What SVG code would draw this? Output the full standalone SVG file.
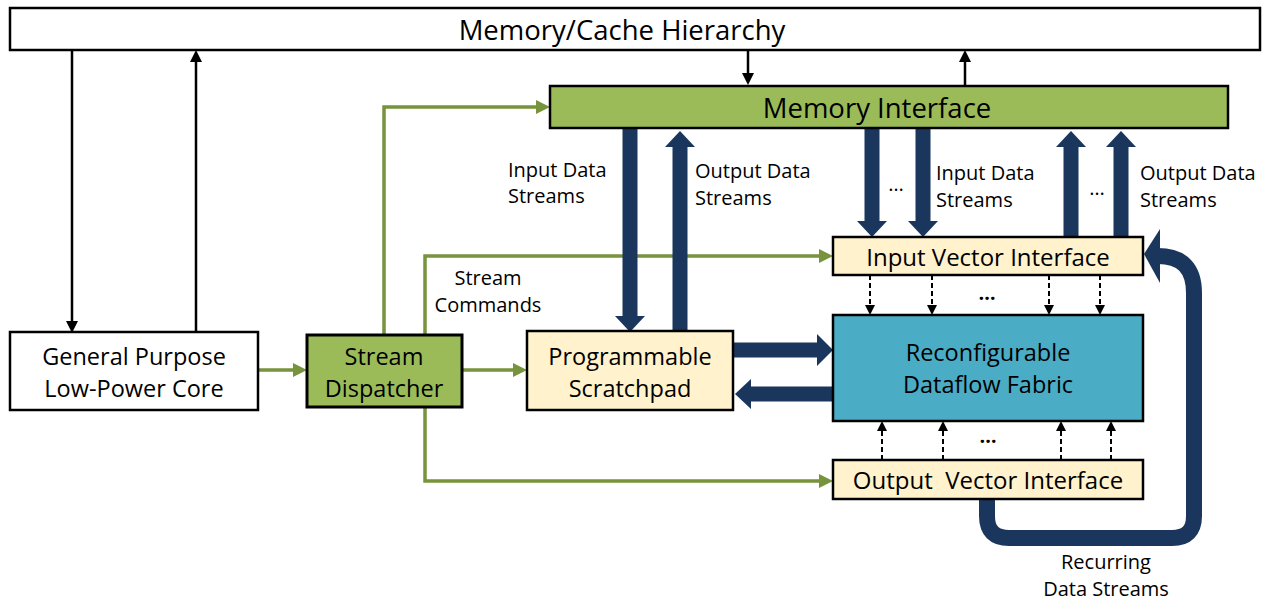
<svg xmlns="http://www.w3.org/2000/svg" width="1268" height="601" viewBox="0 0 1268 601">
<style>
text{font-family:"Open Sans","Liberation Sans",sans-serif;fill:#000}
.big{font-size:27.5px;text-anchor:middle}
.node{font-size:23.5px;text-anchor:middle}
.vi{font-size:24px;text-anchor:middle}
.lbl{font-size:20px}
.box{stroke:#000;stroke-width:2.5}
.g{fill:none;stroke:#77933C;stroke-width:3.5}
.k{fill:none;stroke:#000;stroke-width:2.5}
.d{fill:none;stroke:#000;stroke-width:2;stroke-dasharray:5 3}
.navy{fill:#1B365D}
</style>
<defs>
<marker id="ga" markerUnits="userSpaceOnUse" markerWidth="14" markerHeight="14" viewBox="0 0 10 10" refX="5" refY="5" orient="auto"><path d="M0,0 L10,5 L0,10 z" fill="#77933C"/></marker>
<marker id="ka" markerUnits="userSpaceOnUse" markerWidth="12" markerHeight="12" viewBox="0 0 10 10" refX="5" refY="5" orient="auto"><path d="M0,0 L10,5 L0,10 z" fill="#000"/></marker>
<marker id="da" markerUnits="userSpaceOnUse" markerWidth="10" markerHeight="10" viewBox="0 0 10 10" refX="5" refY="5" orient="auto"><path d="M0,0 L10,5 L0,10 z" fill="#000"/></marker>
</defs>
<rect width="1268" height="601" fill="#fff"/>

<g id="connectors">
<path class="g" d="M258 370 H300" marker-end="url(#ga)"/>
<path class="g" d="M462 370 H520" marker-end="url(#ga)"/>
<path class="g" d="M384 335 V107 H543" marker-end="url(#ga)"/>
<path class="g" d="M425 335 V256 H826" marker-end="url(#ga)"/>
<path class="g" d="M425 407 V481 H826" marker-end="url(#ga)"/>
<path class="k" d="M72 50 V327" marker-end="url(#ka)"/>
<path class="k" d="M196 332 V56" marker-end="url(#ka)"/>
<path class="k" d="M748 50 V79" marker-end="url(#ka)"/>
<path class="k" d="M965 85 V56" marker-end="url(#ka)"/>
<path class="d" d="M870 275 V310" marker-end="url(#da)"/>
<path class="d" d="M932 275 V310" marker-end="url(#da)"/>
<path class="d" d="M1049 275 V310" marker-end="url(#da)"/>
<path class="d" d="M1100 275 V310" marker-end="url(#da)"/>
<path class="d" d="M882 460 V426" marker-end="url(#da)"/>
<path class="d" d="M943 460 V426" marker-end="url(#da)"/>
<path class="d" d="M1061 460 V426" marker-end="url(#da)"/>
<path class="d" d="M1111 460 V426" marker-end="url(#da)"/>
<polygon class="navy" points="622.5,128 637.5,128 637.5,316 645,316 630,332 615,316 622.5,316"/>
<polygon class="navy" points="672.5,331 687.5,331 687.5,147 695,147 680,131 665,147 672.5,147"/>
<polygon class="navy" points="864.5,128 879.5,128 879.5,221 887,221 872,237 857,221 864.5,221"/>
<polygon class="navy" points="915.5,128 930.5,128 930.5,221 938,221 923,237 908,221 915.5,221"/>
<polygon class="navy" points="1063.5,237 1078.5,237 1078.5,147 1086,147 1071,131 1056,147 1063.5,147"/>
<polygon class="navy" points="1113.5,237 1128.5,237 1128.5,147 1136,147 1121,131 1106,147 1113.5,147"/>
<polygon class="navy" points="733,342.5 817,342.5 817,334 833,350 817,366 817,357.5 733,357.5"/>
<polygon class="navy" points="833,386.5 751,386.5 751,379 735,394 751,409 751,401.5 833,401.5"/>
<path d="M987 499 V516 Q987 538 1009 538 H1172 Q1194 538 1194 516 V293 Q1194 256 1158 256" fill="none" stroke="#1B365D" stroke-width="16"/>
<polygon class="navy" points="1144,254 1160,229 1160,283"/>
<text class="lbl" x="896" y="191" style="text-anchor:middle">…</text>
<text class="lbl" x="1097" y="195" style="text-anchor:middle">…</text>
<text x="987" y="300" style="font-size:20px;font-weight:bold;text-anchor:middle">…</text>
<text x="988" y="443" style="font-size:20px;font-weight:bold;text-anchor:middle">…</text>
<text class="lbl" x="508" y="177">Input Data</text>
<text class="lbl" x="508" y="203">Streams</text>
<text class="lbl" x="695" y="178">Output Data</text>
<text class="lbl" x="695" y="205">Streams</text>
<text class="lbl" x="936" y="180">Input Data</text>
<text class="lbl" x="936" y="207">Streams</text>
<text class="lbl" x="1140" y="180">Output Data</text>
<text class="lbl" x="1140" y="207">Streams</text>
<text class="lbl" x="488" y="285" style="text-anchor:middle">Stream</text>
<text class="lbl" x="488" y="312" style="text-anchor:middle">Commands</text>
<text class="lbl" x="1106" y="569" style="text-anchor:middle">Recurring</text>
<text class="lbl" x="1106" y="596" style="text-anchor:middle">Data Streams</text>
</g>

<g id="memory-cache">
<rect class="box" x="10" y="8" width="1250" height="42" fill="#fff"/>
<text class="big" x="622" y="40">Memory/Cache Hierarchy</text>
</g>
<g id="memory-interface">
<rect class="box" x="550" y="86" width="678" height="42" fill="#9BBB59"/>
<text class="big" x="877" y="118">Memory Interface</text>
</g>
<g id="core">
<rect class="box" x="10" y="332" width="248" height="78" fill="#fff"/>
<text class="node" x="134" y="365">General Purpose</text>
<text class="node" x="134" y="397">Low-Power Core</text>
</g>
<g id="dispatcher">
<rect x="307" y="335" width="155" height="72" fill="#9BBB59" stroke="#000" stroke-width="3"/>
<text class="node" x="384" y="365">Stream</text>
<text class="node" x="384" y="397">Dispatcher</text>
</g>
<g id="scratchpad">
<rect class="box" x="527" y="331" width="206" height="79" fill="#FFF2CC"/>
<text class="node" x="630" y="365">Programmable</text>
<text class="node" x="630" y="397">Scratchpad</text>
</g>
<g id="ivi">
<rect class="box" x="833" y="237" width="310" height="38" fill="#FFF2CC"/>
<text class="vi" x="988" y="266">Input Vector Interface</text>
</g>
<g id="fabric">
<rect class="box" x="833" y="315" width="310" height="106" fill="#4BACC6"/>
<text class="node" x="988" y="361">Reconfigurable</text>
<text class="node" x="988" y="393">Dataflow Fabric</text>
</g>
<g id="ovi">
<rect class="box" x="833" y="460" width="310" height="39" fill="#FFF2CC"/>
<text class="vi" x="988" y="489" xml:space="preserve">Output  Vector Interface</text>
</g>
</svg>
